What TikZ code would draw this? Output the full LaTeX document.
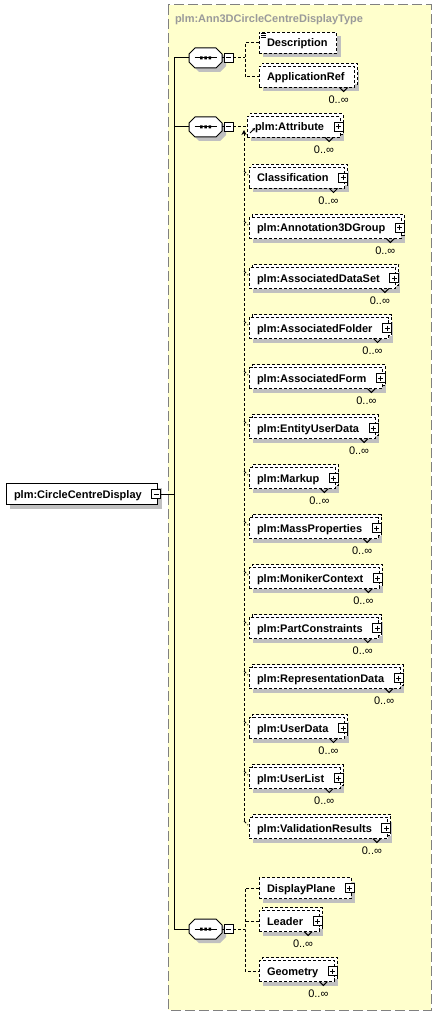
\documentclass[tikz,border=0pt]{standalone}
\usepackage{fontspec}
\setmainfont{Liberation Sans}
\usetikzlibrary{shadows,arrows.meta,calc}
\definecolor{bgyellow}{HTML}{FFFFCC}
\definecolor{shgray}{HTML}{C0C0C0}
\definecolor{framegray}{HTML}{808080}
\definecolor{titlegray}{HTML}{9A9A9A}
\newcommand\fsz{\fontsize{11pt}{13pt}\selectfont}
\tikzset{
  base/.style={inner sep=0pt, outer sep=0pt, line width=1pt, text height=8pt, text depth=0pt},
  gshadow/.style={general shadow={fill=shgray, draw=none, shadow xshift=4pt, shadow yshift=-4pt}},
  cshadow/.style={general shadow={fill=white, draw=black, line width=1pt, dash pattern=on 3pt off 2pt, shadow xshift=3pt, shadow yshift=3pt}},
  elembox/.style={base, draw=black, fill=white, dash pattern=on 3pt off 2pt, minimum height=21pt, anchor=west, font=\bfseries\fsz, gshadow,
     execute at begin node={\hspace*{8pt}}, execute at end node={\hspace*{#1}}},
  elembox/.default=16pt,
  multibox/.style={elembox=#1, cshadow},
  multibox/.default=16pt,
  reqbox/.style={elembox=#1, solid},
  reqbox/.default=16pt,
  plusbtn/.style={base, draw=black, solid, fill=white, minimum size=9pt,
    path picture={\draw[line width=1pt] ([xshift=2pt]path picture bounding box.west) -- ([xshift=-2pt]path picture bounding box.east) ([yshift=-2pt]path picture bounding box.north) -- ([yshift=2pt]path picture bounding box.south);}},
  minusbtn/.style={base, draw=black, solid, fill=white, minimum size=9pt,
    path picture={\draw[line width=1pt] ([xshift=2pt]path picture bounding box.west) -- ([xshift=-2pt]path picture bounding box.east);}},
  occ/.style={base, font=\fsz, anchor=east},
  conn/.style={line width=1pt, dash pattern=on 3pt off 2pt},
  trunk/.style={line width=1pt},
  seqnode/.style={base, minimum width=33pt, minimum height=20pt},
  notch/.style={line width=1pt}
}
\newcommand\seqoct[1]{%
 \begin{scope}[shift={(#1.center)}]
  \fill[shgray,shift={(4,4)}] (-16.5,-4) -- (-10.5,-10) -- (10.5,-10) -- (16.5,-4) -- (16.5,4) -- (10.5,10) -- (-10.5,10) -- (-16.5,4) -- cycle;
  \draw[fill=white,line width=1pt] (-16.5,-4) -- (-10.5,-10) -- (10.5,-10) -- (16.5,-4) -- (16.5,4) -- (10.5,10) -- (-10.5,10) -- (-16.5,4) -- cycle;
  \draw[line width=1pt] (-11,0) -- (11,0);
  \fill (-5.5,-1.5) rectangle (-3,1.5) (-1.25,-1.5) rectangle (1.25,1.5) (3,-1.5) rectangle (5.5,1.5);
 \end{scope}}
\newcommand\occmark[1]{%
  \node[occ] (#1o) at ($(#1.south east)+(-6,12)$) {0..∞};
  \draw[notch] ($(#1.south east)+(-15,0)$) -- ++(4,4) -- ++(4,-4);}
\newcommand\subelem[3]{%
  \node[multibox] (#1) at (249,#2) {#3};
  \node[plusbtn] (#1p) at ($(#1.east)+(-1.5,0)$) {};
  \occmark{#1}
  \draw[conn] ($(#1.west)+(-5,-7)$) -- ($(#1.west)+(-1,-3)$);}
\begin{document}
\begin{tikzpicture}[x=1pt,y=-1pt]
\useasboundingbox (0,0) rectangle (437,1016);
% frame
\draw[framegray, line width=1pt, dash pattern=on 10pt off 4pt, fill=bgyellow] (168,5) rectangle (431,1010);
\node[base, font=\bfseries\fsz, text=titlegray, anchor=west] (title) at (175,19) {plm:Ann3DCircleCentreDisplayType};
% root
\node[reqbox] (root) at (6,494) {plm:CircleCentreDisplay};
\node[minusbtn] (rootm) at ($(root.east)+(-1.5,0)$) {};
% sequences
\node[seqnode] (s1) at (205.5,58) {};
\node[seqnode] (s2) at (205.5,127) {};
\node[seqnode] (s3) at (205.5,929) {};
\seqoct{s1}\seqoct{s2}\seqoct{s3}
\node[minusbtn] (s1m) at (228.5,58) {};
\node[minusbtn] (s2m) at (228.5,127) {};
\node[minusbtn] (s3m) at (228.5,929) {};
\draw[trunk] (s1.east) -- (s1m.west);
\draw[trunk] (s2.east) -- (s2m.west);
\draw[trunk] (s3.east) -- (s3m.west);
% trunk
\coordinate (t0) at (174,494);
\coordinate (t1) at (174,58);
\coordinate (t2) at (174,127);
\coordinate (t3) at (174,929);
\draw[trunk] (rootm.east) -- (t0);
\draw[trunk] (s1.west) -- (t1) -- (t3) -- (s3.west);
\draw[trunk] (t2) -- (s2.west);
% sequence 1 children
\node[elembox=9pt] (desc) at (259,43) {Description};
\draw[line width=0.8pt] ($(desc.north west)+(2,1)$) -- ++(5,0) ($(desc.north west)+(2,3)$) -- ++(5,0) ($(desc.north west)+(2,5)$) -- ++(5,0);
\node[multibox=10pt] (apref) at (259,77) {ApplicationRef};
\occmark{apref}
\coordinate (b1) at (245,58);
\draw[conn] (s1m.east) -- (b1);
\draw[conn] (desc.west) -| (b1) |- (apref.west);
% sequence 2 child
\node[multibox] (attr) at (247,127) {plm:Attribute};
\node[plusbtn] (attrp) at ($(attr.east)+(-1.5,0)$) {};
\occmark{attr}
\draw[conn] (s2m.east) -- (attr.west);
\draw[line width=1pt,-{Stealth[length=3pt,width=3pt]}] ($(attr.west)+(3,6)$) -- ($(attr.west)+(8,1)$);
% substitution group
\subelem{cls}{178}{Classification}
\subelem{ann}{228}{plm:Annotation3DGroup}
\subelem{ads}{278}{plm:AssociatedDataSet}
\subelem{afo}{328}{plm:AssociatedFolder}
\subelem{afm}{378}{plm:AssociatedForm}
\subelem{eud}{428}{plm:EntityUserData}
\subelem{mku}{478}{plm:Markup}
\subelem{mas}{528}{plm:MassProperties}
\subelem{mon}{578}{plm:MonikerContext}
\subelem{pco}{628}{plm:PartConstraints}
\subelem{rep}{678}{plm:RepresentationData}
\subelem{usd}{728}{plm:UserData}
\subelem{usl}{778}{plm:UserList}
\subelem{val}{828}{plm:ValidationResults}
\coordinate (subtop) at (244,130);
\coordinate (subbot) at (244,821);
\draw[conn,-{Stealth[length=5pt,width=5pt]}] (subbot) -- (subtop);
% sequence 3 children
\node[elembox] (dpl) at (259,888) {DisplayPlane};
\node[plusbtn] (dplp) at ($(dpl.east)+(-1.5,0)$) {};
\node[multibox] (lea) at (259,921) {Leader};
\node[plusbtn] (leap) at ($(lea.east)+(-1.5,0)$) {};
\occmark{lea}
\node[multibox] (geo) at (259,971) {Geometry};
\node[plusbtn] (geop) at ($(geo.east)+(-1.5,0)$) {};
\occmark{geo}
\coordinate (b3) at (245,929);
\draw[conn] (s3m.east) -- (b3);
\draw[conn] (dpl.west) -| (b3) |- (geo.west);
\draw[conn] (lea.west) -- (lea.west -| b3);
\end{tikzpicture}
\end{document}
